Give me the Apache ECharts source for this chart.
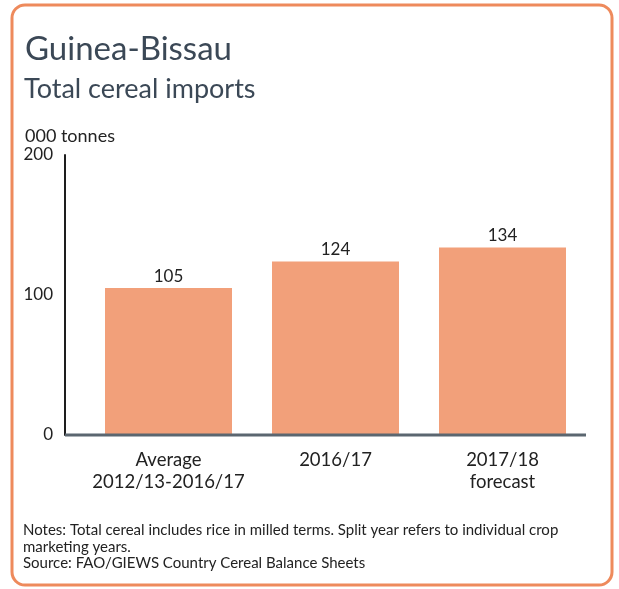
<!DOCTYPE html>
<html>
<head>
<meta charset="utf-8">
<script src="https://cdn.jsdelivr.net/npm/echarts@6/dist/echarts.min.js"></script>
<style>
  html, body { margin: 0; padding: 0; background: #ffffff; }
  #chart { width: 619px; height: 589px; }
</style>
</head>
<body>
<div id="chart"></div>
<script>
// Total cereal imports, thousand tonnes
const categories = ['Average\n2012/13-2016/17', '2016/17', '2017/18\nforecast'];
const imports = [105, 124, 134];
const yTicks = [0, 100, 200];

const FONT = 'Lato, "Open Sans", sans-serif';
const chart = echarts.init(document.getElementById('chart'), null, { renderer: 'canvas' });

const option = {
  backgroundColor: '#ffffff',
  animation: false,
  title: [
    { text: 'Guinea-Bissau', left: 20, top: 24,
      textStyle: { fontFamily: FONT, fontSize: 33, fontWeight: 'normal', color: '#3b4856', lineHeight: 40 } },
    { text: 'Total cereal imports', left: 19, top: 68,
      textStyle: { fontFamily: FONT, fontSize: 27, fontWeight: 'normal', color: '#3b4856', lineHeight: 32 } },
    { text: '000 tonnes', left: 20, top: 121,
      textStyle: { fontFamily: FONT, fontSize: 18, fontWeight: 'normal', color: '#222222', lineHeight: 20 } },
    { text: 'Notes: Total cereal includes rice in milled terms. Split year refers to individual crop\nmarketing years.\nSource: FAO/GIEWS Country Cereal Balance Sheets',
      left: 18, top: 517,
      textStyle: { fontFamily: FONT, fontSize: 15, fontWeight: 'normal', color: '#222222', lineHeight: 16.5 } }
  ],
  grid: { left: 85, right: 33, top: 155, bottom: 154, containLabel: false },
  xAxis: {
    type: 'category',
    data: categories,
    axisLine: { show: false },
    axisTick: { show: false },
    axisLabel: { fontFamily: FONT, fontSize: 18.5, color: '#222222', lineHeight: 22, margin: 14, interval: 0 }
  },
  yAxis: {
    type: 'value',
    min: yTicks[0],
    max: yTicks[yTicks.length - 1],
    interval: yTicks[1] - yTicks[0],
    offset: 20,
    axisLine: { show: true, lineStyle: { color: '#1e1e1e', width: 2 } },
    axisTick: { show: false },
    splitLine: { show: false },
    axisLabel: { fontFamily: FONT, fontSize: 17, color: '#222222', margin: 12 }
  },
  series: [{
    type: 'bar',
    data: imports,
    barWidth: 127,
    itemStyle: { color: '#f2a07a' },
    label: { show: true, position: 'top', distance: 3, fontFamily: FONT, fontSize: 17, color: '#222222' }
  }]
};
chart.setOption(option);

// Baseline at zero running from the value axis to the right edge of the plot,
// plus the rounded orange frame around the whole panel.
const zeroPt = chart.convertToPixel({ gridIndex: 0 }, [0, 0]);
const gridRect = chart.getModel().getComponent('grid', 0).coordinateSystem.getRect();
const axisX = gridRect.x - 20;
chart.setOption({
  graphic: [
    { type: 'line', z: 5,
      shape: { x1: axisX, y1: zeroPt[1], x2: gridRect.x + gridRect.width, y2: zeroPt[1] },
      style: { stroke: '#5b6670', lineWidth: 3 } },
    { type: 'rect', z: -1, silent: true,
      shape: { x: 12, y: 5, width: 600, height: 580, r: 13 },
      style: { fill: 'none', stroke: '#ee8a5c', lineWidth: 3 } }
  ]
});
</script>
</body>
</html>
